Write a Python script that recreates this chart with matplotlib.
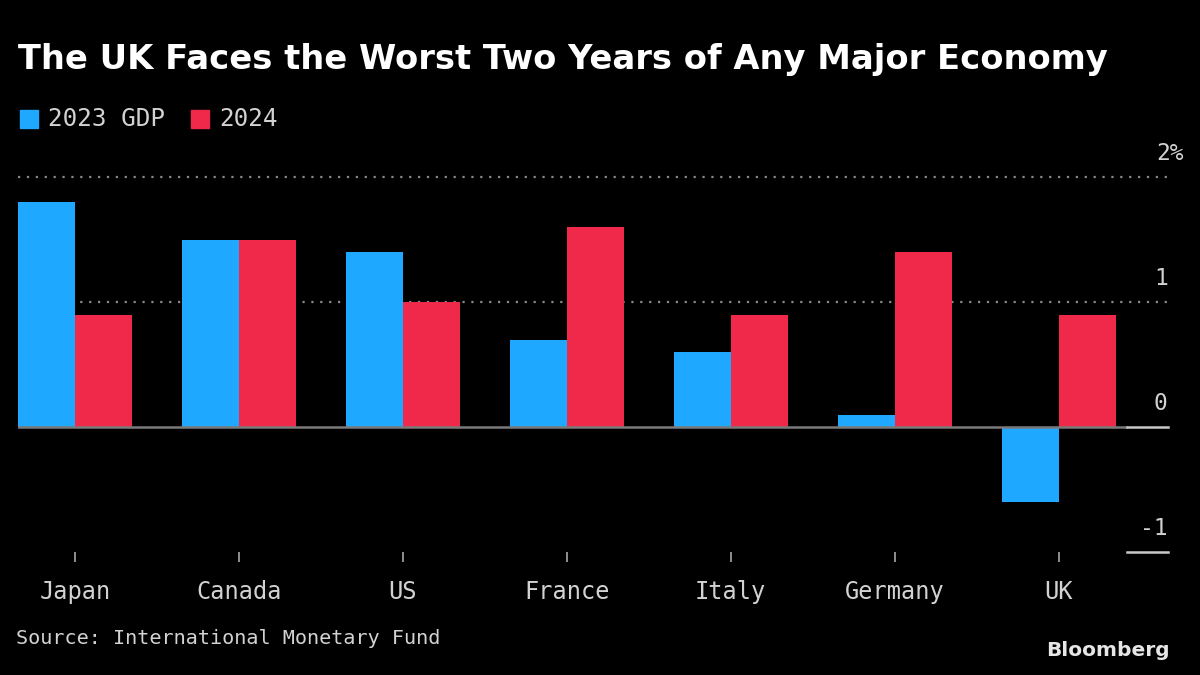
"""
UK vs major economies: IMF GDP growth forecasts for 2023 and 2024.
"""

import numpy as np
import matplotlib.pyplot as plt
from matplotlib.patches import Rectangle

countries = ["Japan", "Canada", "US", "France", "Italy", "Germany", "UK"]
gdp_2023 = [1.8, 1.5, 1.4, 0.7, 0.6, 0.1, -0.6]
gdp_2024 = [0.9, 1.5, 1.0, 1.6, 0.9, 1.4, 0.9]
series_names = ["2023 GDP", "2024"]
y_ticks = [-1, 0, 1, 2]
y_tick_labels = ["-1", "0", "1", "2%"]

BLUE = "#1fa8ff"
RED = "#f0284a"
BG = "#000000"
TEXT = "#d2d2d2"
MONO = "DejaVu Sans Mono"


def main():
    fig = plt.figure(figsize=(12, 6.75), dpi=100, facecolor=BG)
    ax = fig.add_axes([0.015, 0.182, 0.958, 0.611], facecolor=BG)

    x = np.arange(len(countries))
    width = 0.348
    ax.bar(x - width / 2, gdp_2023, width, color=BLUE, zorder=3)
    ax.bar(x + width / 2, gdp_2024, width, color=RED, zorder=3)

    ax.set_xlim(-0.348, 6.665)
    ax.set_ylim(-1.0, 2.3)

    # gridlines and zero line
    for v in [1, 2]:
        ax.axhline(v, color="#8a8a8a", lw=1.6, ls=(0, (1, 3)), zorder=1)
    ax.axhline(0, xmax=0.964, color="#7a7a7a", lw=1.8, zorder=4)
    for v in [0, -1]:
        ax.axhline(v, xmin=0.965, xmax=1.0, color="#c8c8c8", lw=1.8,
                   zorder=4, clip_on=False)

    # y labels sit above their lines on the right
    for v, lab in zip(y_ticks, y_tick_labels):
        ax.text(1.0 if lab != "2%" else 1.0 + 0.014, v + 0.1, lab,
                transform=ax.get_yaxis_transform(), ha="right", va="bottom",
                color=TEXT, fontsize=16.5, family=MONO)

    ax.set_yticks([])
    ax.set_xticks(x)
    ax.set_xticklabels(countries, color=TEXT, fontsize=17, family=MONO)
    ax.tick_params(axis="x", length=7, width=1.3, color="#9a9a9a", pad=13)
    for s in ax.spines.values():
        s.set_visible(False)

    fig.text(0.015, 0.912, "The UK Faces the Worst Two Years of Any Major Economy",
             color="white", fontsize=24.3, fontweight="bold", va="center")

    # legend
    lx = 20 / 1200
    for color, name in zip([BLUE, RED], series_names):
        fig.patches.append(Rectangle((lx, 1 - 128 / 675), 18 / 1200, 18 / 675,
                                     transform=fig.transFigure, color=color))
        t = fig.text(lx + 28 / 1200, 1 - 119 / 675, name, color=TEXT,
                     fontsize=17.5, family=MONO, va="center")
        fig.canvas.draw()
        bb = t.get_window_extent()
        lx = bb.x1 / 1200 + 26 / 1200

    fig.text(0.013, 1 - 638 / 675, "Source: International Monetary Fund",
             color=TEXT, fontsize=14.5, family=MONO, va="center")
    fig.text(0.975, 1 - 651 / 675, "Bloomberg", color="#e6e6e6",
             fontsize=14.5, fontweight="bold", ha="right", va="center")

    fig.savefig("out.png", dpi=100, facecolor=BG)


if __name__ == "__main__":
    main()
